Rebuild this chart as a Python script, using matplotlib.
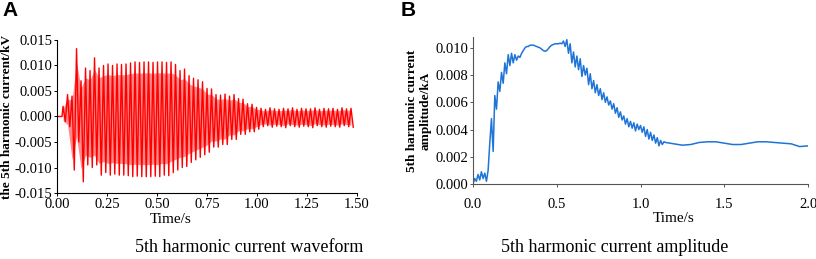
import numpy as np
from matplotlib import pyplot as plt

# Panel A: 5th harmonic current waveform (peak values per cycle, x1e-3 kV)
wave_start = 0.03
wave_period = 0.0225
wave_hi = [2.0, 4.3, 4.0, 13.3, 7.0, 9.5, 9.0, 11.5, 9.5, 10.0,
           10.3, 10.0, 10.3, 10.2, 10.3, 10.5, 10.7, 10.6, 10.7, 10.7,
           10.6, 10.7, 10.7, 10.6, 10.7, 10.2, 9.0, 9.3, 8.0, 7.5,
           7.2, 6.8, 5.5, 5.4, 4.3, 4.2, 4.4, 4.0, 4.3, 3.5,
           3.4, 2.5, 2.4, 1.8,
           1.6, 1.4, 1.7, 1.5, 1.4, 1.6, 1.5, 1.7, 1.4, 1.6,
           1.5, 1.5, 1.7, 1.4, 1.6, 1.5, 1.6, 1.4, 1.7, 1.5, 1.6]
wave_lo = [-1.0, -2.0, -10.5, -5.0, -12.8, -9.5, -10.0, -9.5, -11.5, -11.0,
           -11.5, -11.3, -11.5, -11.5, -11.6, -11.8, -11.7, -11.8, -11.8, -11.8,
           -11.7, -11.8, -11.5, -11.6, -11.0, -10.5, -10.0, -9.8, -9.0, -8.5,
           -8.0, -7.5, -7.0, -6.0, -6.0, -5.5, -5.5, -4.5, -4.5, -3.5,
           -3.5, -3.0, -3.0, -2.5,
           -2.0, -1.8, -2.1, -1.9, -2.0, -2.2, -1.8, -2.0, -2.1, -1.9,
           -2.0, -2.2, -1.8, -2.0, -2.1, -1.9, -2.0, -2.1, -1.8, -2.0, -2.1]

# Panel B: amplitude (x1e-3 kA)
amp_fine = [0.0, 0.4, 0.2, 0.7, 0.3, 0.9, 0.4, 0.8, 0.2, 1.0,
            3.0, 4.8, 2.4, 6.5, 5.5, 7.5, 6.8, 8.2, 7.4, 8.9,
            8.1, 9.5, 8.7, 9.6, 8.9, 9.5, 9.1, 9.4, 9.3, 9.6,
            9.8, 10.0, 10.1, 10.1, 10.2, 10.2, 10.2, 10.15, 10.1, 10.05,
            10.0, 9.9, 9.8, 9.75, 9.8, 9.95, 10.1, 10.2, 10.25, 10.3,
            10.3, 10.3, 10.35, 10.3, 10.5, 10.1, 10.6, 9.6, 10.3, 8.9,
            9.7, 8.6, 9.4, 8.4, 9.2, 7.9, 8.7, 8.0, 8.5, 7.3,
            8.1, 7.0, 7.6, 6.7, 7.3, 6.5, 7.0, 6.2, 6.7, 6.0,
            6.4, 5.8, 6.1, 5.5, 5.9, 5.2, 5.6, 4.9, 5.3, 4.7,
            5.0, 4.4, 4.8, 4.2, 4.6, 4.1, 4.5, 3.9, 4.4, 4.0,
            4.3, 3.8, 4.2, 3.5, 4.0, 3.3, 3.8, 3.2, 3.6, 3.0,
            3.4, 2.8, 3.2, 2.9, 3.1, 3.05]
amp_tail = [2.95, 2.85, 2.9, 3.05, 3.1, 3.1, 3.0, 2.9, 2.9, 3.0,
            3.1, 3.1, 3.05, 3.0, 2.95, 2.75, 2.8]

serif = 'Liberation Serif'

# build waveform
n = len(wave_hi)
tc = wave_start + np.arange(n) * wave_period
hi = np.array(wave_hi) * 1e-3
lo = np.array(wave_lo) * 1e-3
t_wave = [0.0, wave_start - 0.005]
y_wave = [0.0, 0.0]
for i in range(n):
    t_wave += [tc[i], tc[i] + wave_period / 2]
    y_wave += [hi[i], lo[i]]

t_amp = np.concatenate([np.arange(len(amp_fine)) * 0.01,
                        1.2 + np.arange(len(amp_tail)) * 0.05])
y_amp = np.array(amp_fine + amp_tail) * 1e-3

fig = plt.figure(figsize=(8.16, 2.59), dpi=100)

axA = fig.add_axes([0.0699, 0.2548, 0.3676, 0.5908])
axA.fill_between(tc, hi * 0.8, lo * 0.8, color='#ff8a8a', lw=0)
axA.plot(t_wave, y_wave, color='#ff0000', lw=1.0)
axA.set_xlim(0, 1.5)
axA.set_ylim(-0.015, 0.015)
axA.set_xticks([0, 0.25, 0.5, 0.75, 1.0, 1.25, 1.5])
axA.set_xticklabels(['0.00', '0.25', '0.50', '0.75', '1.00', '1.25', '1.50'])
axA.set_yticks([-0.015, -0.01, -0.005, 0, 0.005, 0.01, 0.015])
axA.set_yticklabels(['-0.015', '-0.010', '-0.005', '0.000', '0.005', '0.010', '0.015'])
axA.set_ylabel('the 5th harmonic current/kV', fontfamily=serif, fontweight='bold',
               fontsize=9.5, labelpad=1)
axA.text(0.38, -0.176, 'Time/s', transform=axA.transAxes, ha='center', va='center',
         fontfamily=serif, fontsize=11)

axB = fig.add_axes([0.5797, 0.2896, 0.4105, 0.5676])
axB.plot(t_amp, y_amp, color='#1f74d8', lw=1.1)
axB.set_xlim(0, 2.0)
axB.set_ylim(0, 0.0108)
axB.set_xticks([0, 0.5, 1.0, 1.5, 2.0])
axB.set_xticklabels(['0.0', '0.5', '1.0', '1.5', '2.0'])
axB.set_yticks([0, 0.002, 0.004, 0.006, 0.008, 0.010])
axB.set_yticklabels(['0.000', '0.002', '0.004', '0.006', '0.008', '0.010'])
axB.set_ylabel('5th harmonic current\namplitude/kA', fontfamily=serif,
               fontweight='bold', fontsize=9.5, labelpad=3, linespacing=1.1)
axB.text(0.6, -0.238, 'Time/s', transform=axB.transAxes, ha='center', va='center',
         fontfamily=serif, fontsize=11)

for ax, col, pad in [(axA, 'black', 1.5), (axB, '#555555', 8)]:
    ax.spines['top'].set_visible(False)
    ax.spines['right'].set_visible(False)
    ax.spines['left'].set_color(col)
    ax.spines['bottom'].set_color(col)
    ax.tick_params(axis='both', direction='out', length=2, width=0.7, color=col,
                   labelsize=10.5)
    ax.tick_params(axis='x', pad=pad)
    ax.tick_params(axis='y', pad=1.5)
    for lab in ax.get_xticklabels() + ax.get_yticklabels():
        lab.set_fontfamily(serif)

fig.text(249 / 816, 1 - 247 / 259, '5th harmonic current waveform', ha='center',
         va='center', fontfamily=serif, fontsize=13)
fig.text(615 / 816, 1 - 247 / 259, '5th harmonic current amplitude', ha='center',
         va='center', fontfamily=serif, fontsize=13)
fig.text(2 / 816, 1 - 10 / 259, 'A', ha='left', va='center',
         fontfamily='Liberation Sans', fontweight='bold', fontsize=15)
fig.text(401 / 816, 1 - 10 / 259, 'B', ha='left', va='center',
         fontfamily='Liberation Sans', fontweight='bold', fontsize=15)

fig.savefig('out.png', dpi=100)
